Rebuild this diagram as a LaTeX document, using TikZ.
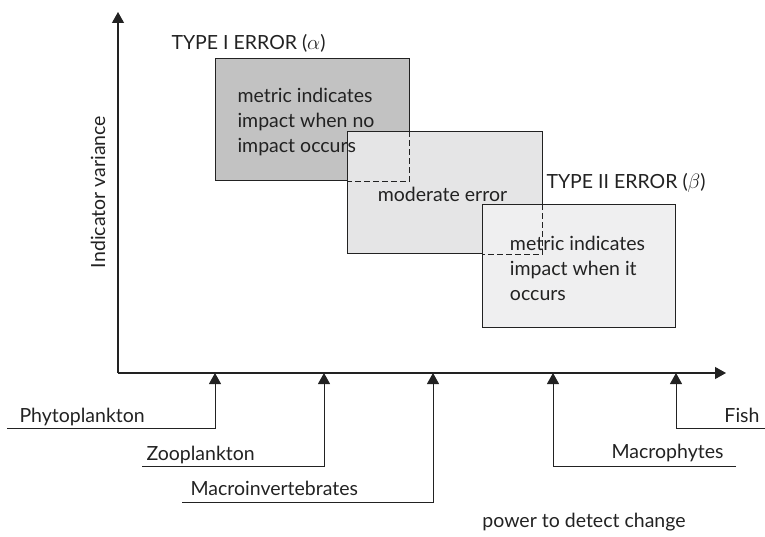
\documentclass[tikz,border=0pt]{standalone}
\usepackage{fontspec}
\setmainfont{Lato}
\usepackage{tikz}
\usetikzlibrary{positioning, calc, arrows.meta}
\definecolor{errdark}{HTML}{C2C2C2}
\definecolor{errmid}{HTML}{E5E5E6}
\definecolor{errlight}{HTML}{EFEFF0}
\definecolor{ink}{HTML}{222222}

\begin{document}
\begin{tikzpicture}[x=1pt, y=-1pt, font=\fontsize{19.5}{25}\selectfont, text=ink,
    tip/.style={-{Triangle[length=11pt, width=12pt]}, draw=ink, line width=1pt},
    box/.style={draw=ink, line width=1pt, inner sep=0pt, minimum height=122pt},
    lbl/.style={anchor=base west},
    lblr/.style={anchor=base east}]
    \useasboundingbox (0,0) rectangle (765,537);
    % axes
    \coordinate (O) at (118,373);
    \coordinate (ytip) at (118,12);
    \coordinate (xtip) at (726,373);
    \draw[tip, line width=1.2pt] (O) -- (ytip);
    \draw[tip, line width=1.2pt] (O) -- (xtip);
    \node[rotate=90] (ylab) at (98,192) {Indicator variance};
    \node (power) at (584,527) [anchor=base] {power to detect change};
    % error boxes
    \node[box, fill=errdark, minimum width=194pt] (b1) at (312,120) {};
    \node[box, fill=errmid, minimum width=195pt] (b2) at (444.5,193) {};
    \node[box, fill=errlight, minimum width=193pt] (b3) at (578.5,266) {};
    \draw[ink, line width=1pt, dash pattern=on 6pt off 3pt]
        (b1.east |- b2.north) -- (b1.south east) -- (b1.south -| b2.west);
    \draw[ink, line width=1pt, dash pattern=on 6pt off 3pt]
        (b2.east |- b3.north) -- (b2.south east) -- (b2.south -| b3.west);
    \node[align=left] (t1) at ($(b1.center)+(-6,2)$) {metric indicates\\impact when no\\impact occurs};
    \node (t2) at ($(b2.center)+(-2,1)$) {moderate error};
    \node[align=left] (t3) at ($(b3.center)+(-1,2)$) {metric indicates\\impact when it\\occurs};
    \node[lbl] (type1) at (168,50) {TYPE I ERROR ($\alpha$)};
    \node[lbl] (type2) at (543,189) {TYPE II ERROR ($\beta$)};
    % indicator groups
    \coordinate (phyto) at (215,373);
    \coordinate (zoo) at (324,373);
    \coordinate (minv) at (433,373);
    \coordinate (mphy) at (553,373);
    \coordinate (fish) at (676,373);
    \coordinate (phytoS) at (7,428);
    \coordinate (zooS) at (142,466);
    \coordinate (minvS) at (182,502);
    \coordinate (mphyS) at (736,466);
    \coordinate (fishS) at (765,428);
    \draw[tip] (phytoS) -| (phyto);
    \draw[tip] (zooS) -| (zoo);
    \draw[tip] (minvS) -| (minv);
    \draw[tip] (mphyS) -| (mphy);
    \draw[tip] (fishS) -| (fish);
    \node[lbl] (phytoL) at (16,422) {Phytoplankton};
    \node[lbl] (zooL) at (143,460) {Zooplankton};
    \node[lbl] (minvL) at (187,495) {Macroinvertebrates};
    \node[lblr] (mphyL) at (727,458) {Macrophytes};
    \node[lblr] (fishL) at (763,422) {Fish};
\end{tikzpicture}
\end{document}
